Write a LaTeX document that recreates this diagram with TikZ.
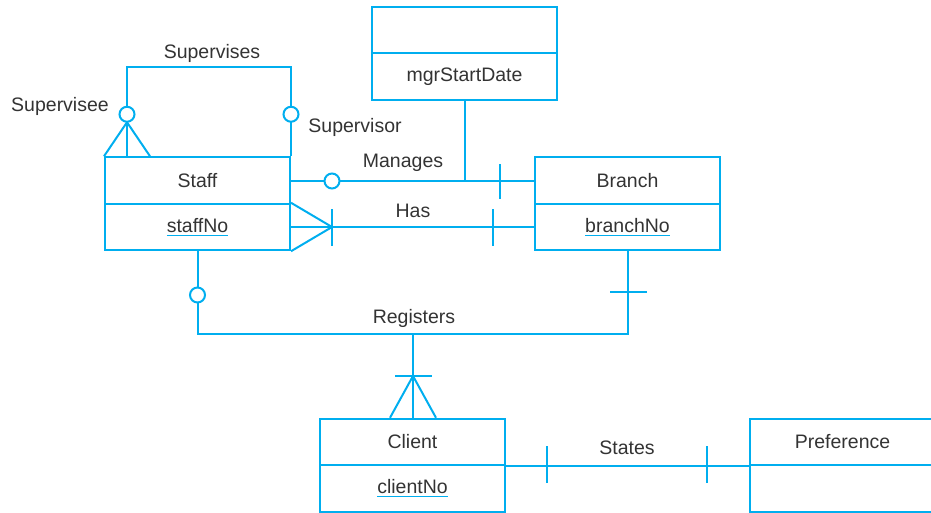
\documentclass[tikz,border=0pt]{standalone}
\usepackage{fontspec}
\setmainfont{Liberation Sans}
\definecolor{cy}{HTML}{00AEEF}
\definecolor{txt}{HTML}{333333}
\newcommand\cul[1]{\setbox0\hbox{#1}\rlap{\color{cy}\rule[-3.5pt]{\wd0}{1.2pt}}\box0}
\begin{document}
\begin{tikzpicture}[x=1pt,y=-1pt,
  lw/.style={draw=cy,line width=2pt},
  ebox/.style={lw,rectangle,minimum width=185pt,minimum height=46.5pt,inner sep=0pt,
    text=txt,font=\fontsize{19.5}{22}\selectfont},
  ring/.style={lw,circle,fill=white,minimum size=15pt,inner sep=0pt},
  lbl/.style={text=txt,font=\fontsize{19.5}{22}\selectfont,inner sep=0pt}]
\useasboundingbox (0,0) rectangle (931,512);
% entities
\node[ebox] (staffT) at (197.5,180.5) {Staff};
\node[ebox] (staffB) at (197.5,227) {\cul{staffNo}};
\node[ebox] (branchT) at (627.5,180.5) {Branch};
\node[ebox] (branchB) at (627.5,227) {\cul{branchNo}};
\node[ebox] (mgrT) at (464.5,30) {};
\node[ebox] (mgrB) at (464.5,76.5) {mgrStartDate};
\node[ebox] (clientT) at (412.5,442) {Client};
\node[ebox] (clientB) at (412.5,488.5) {\cul{clientNo}};
\node[ebox] (prefT) at (842.5,442) {Preference};
\node[ebox] (prefB) at (842.5,488.5) {};
% Supervises
\coordinate (sveeTop) at ([xshift=23pt]staffT.north west);
\draw[lw] (sveeTop) -- ++(0,-89) -| (staffT.north east);
\draw[lw] ([yshift=34pt]sveeTop) -- (staffT.north west);
\draw[lw] ([yshift=34pt]sveeTop) -- ([xshift=46pt]staffT.north west);
\node[ring] (c1) at ([yshift=42pt]sveeTop) {};
\node[ring] (c2) at ([yshift=42pt]staffT.north east) {};
\node[lbl] (l1) at (212,53) {Supervises};
\node[lbl] (l2) at (60,106) {Supervisee};
\node[lbl] (l3) at (355,127) {Supervisor};
% Manages
\draw[lw] (staffT.east) -- (branchT.west);
\draw[lw] (mgrB.south) -- (mgrB.south |- staffT.east);
\node[ring] (c3) at (332,181) {};
\coordinate (mb) at (500,181);
\draw[lw] ([yshift=17pt]mb) -- ([yshift=-18pt]mb);
\node[lbl] (l4) at (403,163) {Manages};
% Has
\draw[lw] (staffB.east) -- (branchB.west);
\coordinate (hc) at (332,227);
\draw[lw] (staffB.north east) -- (hc) -- (staffB.south east);
\draw[lw] ([yshift=18pt]hc) -- ([yshift=-19pt]hc);
\coordinate (hb) at (493,227);
\draw[lw] ([yshift=18pt]hb) -- ([yshift=-19pt]hb);
\node[lbl] (l5) at (413,211) {Has};
% Registers
\draw[lw] (staffB.south) -- ++(0,83) -| (branchB.south);
\node[ring] (c4) at (197.5,295) {};
\coordinate (rb) at (628,292);
\draw[lw] ([xshift=-18pt]rb) -- ([xshift=19pt]rb);
\coordinate (rj) at (413,333);
\draw[lw] (rj) -- (rj |- clientT.north);
\coordinate (rc) at (413,376);
\draw[lw] ([xshift=-18pt]rc) -- ([xshift=19pt]rc);
\draw[lw] ([xshift=-23pt]rc |- clientT.north) -- (rc) -- ([xshift=23pt]rc |- clientT.north);
\node[lbl] (l6) at (414,318) {Registers};
% States
\draw[lw] (clientT.south east) -- (prefT.south west);
\coordinate (s1) at (547,465);
\coordinate (s2) at (707,465);
\draw[lw] ([yshift=-18pt]s1) -- ([yshift=19pt]s1);
\draw[lw] ([yshift=-18pt]s2) -- ([yshift=19pt]s2);
\node[lbl] (l7) at (627,448) {States};
\end{tikzpicture}
\end{document}
